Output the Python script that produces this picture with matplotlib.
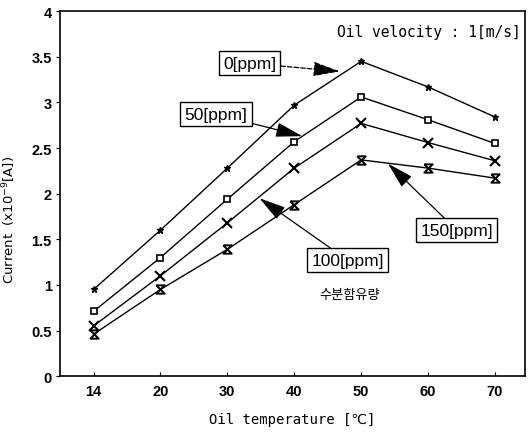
import matplotlib
matplotlib.use("Agg")
import matplotlib.pyplot as plt
from matplotlib.path import Path
from matplotlib.font_manager import FontProperties

temps = ["14", "20", "30", "40", "50", "60", "70"]
ppm0 = [0.95, 1.60, 2.28, 2.97, 3.45, 3.17, 2.84]
ppm50 = [0.71, 1.30, 1.94, 2.57, 3.06, 2.81, 2.55]
ppm100 = [0.55, 1.10, 1.68, 2.28, 2.77, 2.56, 2.36]
ppm150 = [0.46, 0.95, 1.39, 1.88, 2.37, 2.28, 2.17]
series_labels = ["0[ppm]", "50[ppm]", "100[ppm]", "150[ppm]"]
yticks = [0, 0.5, 1, 1.5, 2, 2.5, 3, 3.5, 4]
ytick_labels = ["0", "0.5", "1", "1.5", "2", "2.5", "3", "3.5", "4"]

hourglass = Path([(-1, 1), (1, 1), (-1, -1), (1, -1), (-1, 1)],
                 [Path.MOVETO, Path.LINETO, Path.LINETO, Path.LINETO, Path.LINETO])

fig = plt.figure(figsize=(5.32, 4.35), dpi=100)
ax = fig.add_axes([0.113, 0.133, 0.874, 0.839])
x = list(range(len(temps)))

ax.plot(x, ppm0, color="black", lw=1, marker="*", ms=5, mfc="black", mec="black")
ax.plot(x, ppm50, color="black", lw=1, marker="s", ms=5, mfc="white", mec="black", mew=1.2)
ax.plot(x, ppm100, color="black", lw=1, marker="x", ms=7, mec="black", mew=1.5)
ax.plot(x, ppm150, color="black", lw=1, marker=hourglass, ms=6, mfc="none", mec="black", mew=1.4)

ax.set_xlim(-0.5, 6.45)
ax.set_ylim(0, 4)
ax.set_xticks(x)
ax.set_xticklabels(temps)
ax.set_yticks(yticks)
ax.set_yticklabels(ytick_labels)
tick_fp = FontProperties(family="Liberation Sans", weight="bold", size=10.5)
for lab in ax.get_xticklabels() + ax.get_yticklabels():
    lab.set_fontproperties(tick_fp)
ax.tick_params(axis="x", direction="in", length=3, pad=6)
ax.tick_params(axis="y", direction="out", length=3, pad=3)
for s in ax.spines.values():
    s.set_linewidth(1.2)

ax.set_xlabel("Oil temperature [℃]", family=["DejaVu Sans Mono", "DejaVu Sans"], fontsize=10, labelpad=10)
ax.set_ylabel("Current  (x10$^{-9}$[A])", family="DejaVu Sans", fontsize=9.5)
ax.yaxis.set_label_coords(-0.09, 0.43)

ax.text(6.38, 3.78, "Oil velocity : 1[m/s]", ha="right", va="center",
        family="DejaVu Sans Mono", fontsize=10.5)
ax.text(3.83, 0.89, "수분함유량", ha="center", va="center",
        family=["Noto Sans CJK KR"], fontsize=9.5)

box = dict(boxstyle="square,pad=0.25", fc="white", ec="black", lw=1)
arrow_solid = dict(arrowstyle="-|>,head_length=1.1,head_width=0.3", color="black",
                   lw=0.9, mutation_scale=15, shrinkA=0, shrinkB=0)
arrow_dash = dict(arrow_solid, linestyle="--")

ann = [
    (series_labels[0], (3.68, 3.34), (2.33, 3.43), arrow_dash),
    (series_labels[1], (3.12, 2.63), (1.83, 2.87), arrow_solid),
    (series_labels[2], (2.48, 1.95), (3.80, 1.27), arrow_solid),
    (series_labels[3], (4.40, 2.33), (5.43, 1.60), arrow_solid),
]
for txt, xy, xyt, ap in ann:
    ax.annotate(txt, xy=xy, xytext=xyt, textcoords="data", ha="center", va="center",
                family="Liberation Sans", fontsize=12.5, bbox=box, arrowprops=ap)

fig.savefig("out.png", dpi=100)
